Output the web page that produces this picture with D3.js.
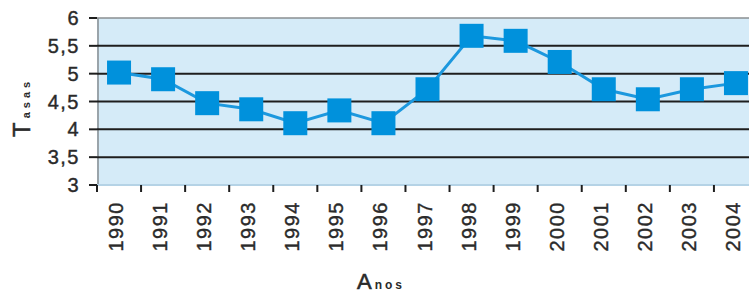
<!DOCTYPE html>
<html><head><meta charset="utf-8">
<script src="https://cdn.jsdelivr.net/npm/d3@7"></script>
<style>body{margin:0;background:#fff}svg{display:block}text{font-family:"Liberation Sans",Arial,sans-serif}</style>
</head><body>
<svg id="c" width="749" height="297"></svg>
<script>
const years = ["1990","1991","1992","1993","1994","1995","1996","1997","1998","1999","2000","2001","2002","2003","2004"];
const rates = [5.02,4.90,4.47,4.36,4.11,4.34,4.11,4.72,5.68,5.59,5.21,4.72,4.54,4.72,4.83];
const yTicks = [3,3.5,4,4.5,5,5.5,6];
const yTickLabels = ["3","3,5","4","4,5","5","5,5","6"];

const svg = d3.select("#c");
const L = 97, R = 758, T = 18, B = 185;
const x = d3.scaleBand().domain(years).range([L, R]);
const y = d3.scaleLinear().domain([3, 6]).range([B, T]);

svg.append("rect").attr("x", L).attr("y", T).attr("width", R - L).attr("height", B - T).attr("fill", "#d5ebf8");
svg.append("line").attr("x1", L + 1).attr("x2", L + 1).attr("y1", T).attr("y2", B).attr("stroke", "#9aa4aa").attr("stroke-width", 2);
svg.selectAll("line.g").data(yTicks.filter(v => v > 3)).enter().append("line")
  .attr("x1", L).attr("x2", R).attr("y1", d => y(d)).attr("y2", d => y(d))
  .attr("stroke", d => d === 6 ? "#8a8f92" : "#1e1e1e").attr("stroke-width", d => d === 6 ? 1.5 : 2);
svg.append("line").attr("x1", L).attr("x2", R).attr("y1", B).attr("y2", B).attr("stroke", "#b5d3e6").attr("stroke-width", 2);

svg.selectAll("line.yt").data(yTicks).enter().append("line")
  .attr("x1", 89).attr("x2", L).attr("y1", d => y(d)).attr("y2", d => y(d)).attr("stroke", "#1e1e1e").attr("stroke-width", 2);
svg.selectAll("text.yl").data(yTicks).enter().append("text")
  .attr("x", 80).attr("y", d => y(d)).attr("dy", "0.35em").attr("text-anchor", "end")
  .attr("font-size", 20).attr("letter-spacing", 1.5).attr("fill", "#2a2a2a").attr("stroke", "#2a2a2a").attr("stroke-width", 0.4)
  .text((d, i) => yTickLabels[i]);

const bounds = years.map(d => x(d));
svg.selectAll("line.xt").data(bounds).enter().append("line")
  .attr("x1", d => d).attr("x2", d => d).attr("y1", B).attr("y2", B + 7).attr("stroke", "#1e1e1e").attr("stroke-width", 2);
svg.selectAll("text.xl").data(years).enter().append("text")
  .attr("transform", d => `translate(${x(d) + x.bandwidth() / 2 + 4},201) rotate(-90)`)
  .attr("text-anchor", "end").attr("font-size", 20).attr("letter-spacing", 1.5).attr("fill", "#2a2a2a").attr("stroke", "#2a2a2a").attr("stroke-width", 0.4)
  .text(d => d);

const cx = d => x(d) + x.bandwidth() / 2;
svg.append("path").datum(rates)
  .attr("d", d3.line().x((d, i) => cx(years[i])).y(d => y(d)))
  .attr("fill", "none").attr("stroke", "#1c98de").attr("stroke-width", 3);
svg.selectAll("rect.m").data(rates).enter().append("rect")
  .attr("x", (d, i) => cx(years[i]) - 12).attr("y", d => y(d) - 12)
  .attr("width", 24).attr("height", 24).attr("fill", "#0091dc");

const ty = svg.append("text").attr("transform", "translate(30,137) rotate(-90)").attr("fill", "#2a2a2a").attr("letter-spacing", 4);
ty.append("tspan").attr("font-size", 24).attr("stroke", "#2a2a2a").attr("stroke-width", 0.5).text("T");
ty.append("tspan").attr("font-size", 11).attr("font-weight", "bold").text("asas");
const tx = svg.append("text").attr("x", 357).attr("y", 289).attr("fill", "#2a2a2a").attr("letter-spacing", 3);
tx.append("tspan").attr("font-size", 22).attr("stroke", "#2a2a2a").attr("stroke-width", 0.6).text("A");
tx.append("tspan").attr("font-size", 12).attr("font-weight", "bold").text("nos");
</script>
</body></html>
